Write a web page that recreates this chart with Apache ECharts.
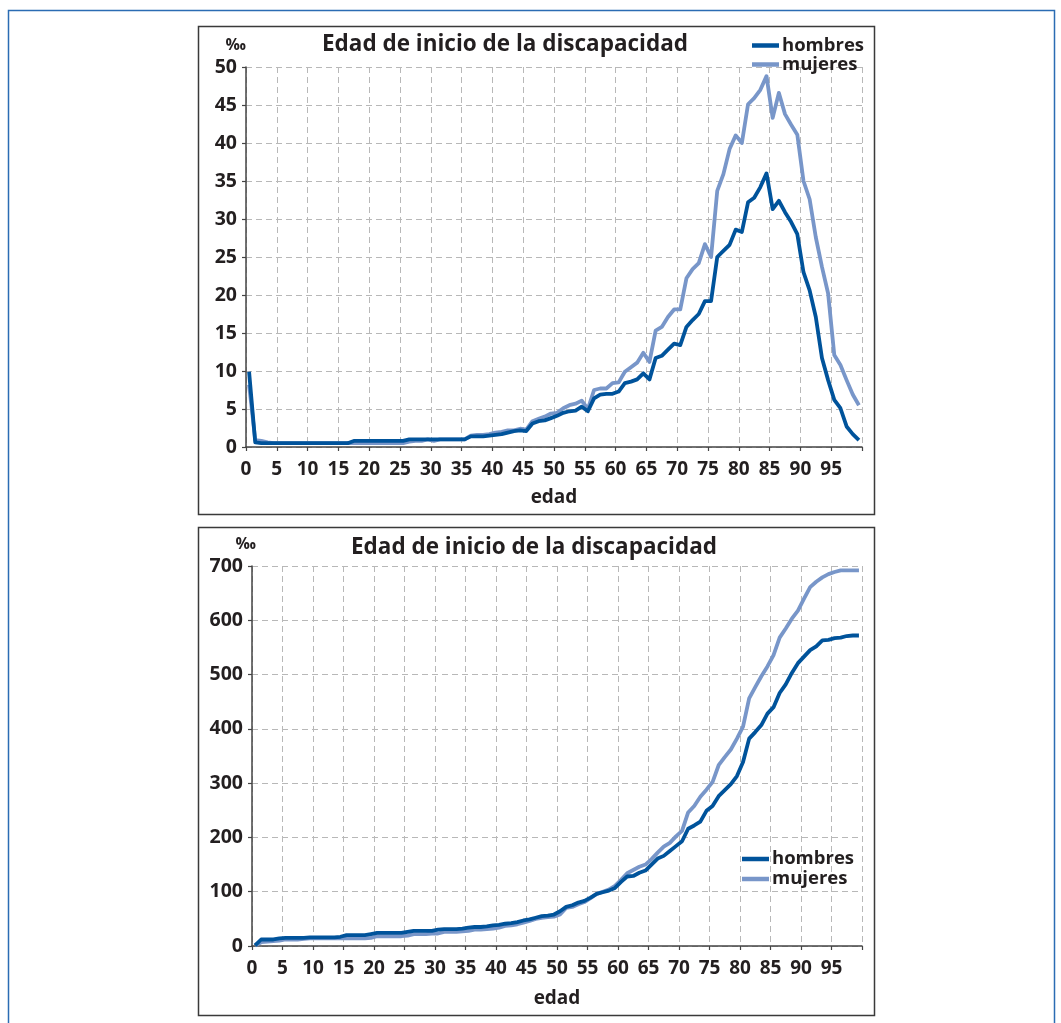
<!DOCTYPE html>
<html>
<head>
<meta charset="utf-8">
<script src="https://cdn.jsdelivr.net/npm/echarts@6/dist/echarts.min.js"></script>
<style>
html,body{margin:0;padding:0;background:#fff;}
#chart{width:1061px;height:1023px;}
</style>
</head>
<body>
<div id="chart"></div>
<script>
// ---- data ----
const edades = Array.from({length: 100}, (_, i) => i); // 0..99 años
const xTicks = [0,5,10,15,20,25,30,35,40,45,50,55,60,65,70,75,80,85,90,95];
const titulo = 'Edad de inicio de la discapacidad';
const serieNombres = ['hombres', 'mujeres'];

// tasa anual (‰) por edad de inicio
const tasaHombres = [
  9.9, 0.6, 0.5, 0.5, 0.5, 0.5, 0.5, 0.5, 0.5, 0.5,
  0.5, 0.5, 0.5, 0.5, 0.5, 0.5, 0.5, 0.8, 0.8, 0.8,
  0.8, 0.8, 0.8, 0.8, 0.8, 0.8, 1.0, 1.0, 1.0, 1.0,
  1.0, 1.0, 1.0, 1.0, 1.0, 1.0, 1.4, 1.4, 1.4, 1.5,
  1.6, 1.7, 1.9, 2.1, 2.2, 2.1, 3.1, 3.4, 3.5, 3.8,
  4.1, 4.5, 4.7, 4.8, 5.3, 4.7, 6.4, 6.9, 7.0, 7.0,
  7.3, 8.4, 8.6, 8.9, 9.7, 8.9, 11.7, 12.0, 12.8, 13.6,
  13.4, 15.8, 16.7, 17.5, 19.2, 19.2, 25.0, 25.8, 26.6, 28.6,
  28.3, 32.2, 32.8, 34.2, 36.0, 31.3, 32.4, 30.9, 29.6, 28.0,
  23.0, 20.6, 17.1, 11.7, 8.8, 6.2, 5.1, 2.7, 1.7, 0.9
];
const tasaMujeres = [
  8.2, 0.9, 0.8, 0.6, 0.5, 0.5, 0.5, 0.5, 0.5, 0.5,
  0.5, 0.5, 0.5, 0.5, 0.5, 0.5, 0.5, 0.5, 0.5, 0.5,
  0.5, 0.5, 0.5, 0.5, 0.5, 0.5, 0.7, 0.8, 0.8, 1.0,
  0.8, 1.0, 1.0, 1.0, 1.0, 1.0, 1.5, 1.6, 1.6, 1.7,
  1.9, 2.0, 2.2, 2.2, 2.4, 2.3, 3.4, 3.7, 4.0, 4.4,
  4.5, 5.1, 5.5, 5.7, 6.1, 5.0, 7.5, 7.7, 7.7, 8.4,
  8.5, 9.9, 10.5, 11.1, 12.4, 11.2, 15.3, 15.8, 17.1, 18.1,
  18.1, 22.2, 23.4, 24.2, 26.7, 25.0, 33.7, 35.9, 39.2, 41.0,
  40.0, 45.1, 45.9, 47.0, 48.8, 43.3, 46.6, 43.8, 42.4, 41.1,
  35.0, 32.6, 27.6, 23.7, 20.2, 12.1, 10.8, 8.8, 6.9, 5.5
];
// acumulado (‰)
const acumHombres = [
  1, 12, 12, 12, 14, 15, 15, 15, 15, 16,
  16, 16, 16, 16, 17, 20, 20, 20, 20, 22,
  24, 24, 24, 24, 24, 26, 28, 28, 28, 28,
  30, 31, 31, 31, 32, 34, 35, 35, 36, 38,
  39, 41, 42, 44, 47, 49, 52, 55, 56, 58,
  64, 72, 75, 80, 83, 89, 96, 99, 102, 107,
  118, 128, 129, 135, 139, 150, 161, 166, 175, 184,
  193, 216, 222, 229, 249, 258, 276, 287, 298, 313,
  339, 382, 394, 407, 428, 440, 466, 482, 503, 521,
  533, 545, 552, 563, 564, 567, 568, 571, 572, 572
];
const acumMujeres = [
  1, 7, 8, 9, 10, 12, 12, 12, 13, 14,
  14, 14, 14, 14, 14, 14, 14, 14, 14, 15,
  18, 18, 18, 18, 18, 19, 22, 22, 22, 23,
  23, 26, 26, 26, 27, 28, 30, 30, 31, 32,
  34, 37, 38, 40, 43, 46, 50, 52, 53, 54,
  58, 70, 72, 77, 81, 88, 96, 100, 104, 111,
  122, 134, 140, 146, 150, 160, 172, 183, 190, 202,
  212, 246, 258, 275, 288, 302, 333, 348, 362, 382,
  404, 456, 477, 497, 515, 536, 568, 585, 603, 618,
  640, 661, 671, 679, 685, 689, 692, 692, 692, 692
];

// ---- styling ----
const colHombres = '#00539b';
const colMujeres = '#7896c9';
const txtCol = '#231f20';
const FONT = '"Open Sans", "Noto Sans", sans-serif';

// each age is drawn at the centre of its one-year band
const pts = vals => edades.map((e, i) => [e + 0.5, vals[i]]);

function xAxisDef(gridIndex, labelMargin, nameGap) {
  return {
    type: 'value', gridIndex, min: 0, max: 100, interval: 5,
    name: 'edad', nameLocation: 'middle', nameGap,
    nameTextStyle: {color: txtCol, fontSize: 19, fontWeight: 'bold', fontFamily: FONT},
    axisLine: {show: true, lineStyle: {color: '#444', width: 1.5}},
    axisTick: {show: true, length: 4, lineStyle: {color: '#444', width: 1.2}},
    axisLabel: {
      margin: labelMargin, color: txtCol, fontSize: 19, fontWeight: 'bold', fontFamily: FONT,
      formatter: v => xTicks.indexOf(v) >= 0 ? String(v) : ''
    },
    splitLine: {show: true, lineStyle: {color: '#b8b8b8', type: [6, 4], width: 1}}
  };
}
function yAxisDef(gridIndex, max, interval, namePad) {
  return {
    type: 'value', gridIndex, min: 0, max, interval,
    name: '‰', nameLocation: 'end', nameGap: 14,
    nameTextStyle: {color: txtCol, fontSize: 16, fontWeight: 'bold', fontFamily: FONT, align: 'right', padding: namePad},
    axisLine: {show: true, lineStyle: {color: '#444', width: 1.5}},
    axisTick: {show: true, length: 4, lineStyle: {color: '#444', width: 1.2}},
    axisLabel: {margin: 9, color: txtCol, fontSize: 19.5, fontWeight: 'bold', fontFamily: FONT},
    splitLine: {show: true, lineStyle: {color: '#b8b8b8', type: [6, 4], width: 1}}
  };
}
function lineSeries(name, color, data, idx) {
  return {
    name, type: 'line', xAxisIndex: idx, yAxisIndex: idx,
    data, symbol: 'none', smooth: false, animation: false,
    lineStyle: {color, width: 3.8, join: 'round'}, itemStyle: {color},
    z: name === 'hombres' ? 3 : 2
  };
}

const chart = echarts.init(document.getElementById('chart'), null, {renderer: 'canvas'});
chart.setOption({
  backgroundColor: '#fff',
  animation: false,
  textStyle: {fontFamily: FONT},
  title: [
    {text: titulo, left: 500, top: 28, textAlign: 'center',
     textStyle: {color: txtCol, fontSize: 22.5, fontWeight: 'bold', fontFamily: FONT}},
    {text: titulo, left: 529, top: 531, textAlign: 'center',
     textStyle: {color: txtCol, fontSize: 22.5, fontWeight: 'bold', fontFamily: FONT}}
  ],
  legend: [
    {data: serieNombres, orient: 'vertical', left: 747, top: 31, itemGap: 0,
     icon: 'rect', itemWidth: 27, itemHeight: 4.5,
     textStyle: {color: txtCol, fontSize: 18.5, fontWeight: 'bold', fontFamily: FONT, lineHeight: 19, padding: [0, 0, 0, -2]}},
    {data: serieNombres, orient: 'vertical', left: 737, top: 844, itemGap: 0,
     icon: 'rect', itemWidth: 27, itemHeight: 4.5,
     textStyle: {color: txtCol, fontSize: 18.5, fontWeight: 'bold', fontFamily: FONT, lineHeight: 20, padding: [0, 0, 0, -2]}}
  ],
  grid: [
    {left: 246, right: 199, top: 67, height: 380},
    {left: 252, right: 199, top: 566, height: 380}
  ],
  xAxis: [xAxisDef(0, 13, 41), xAxisDef(1, 13, 43)],
  yAxis: [yAxisDef(0, 50, 5, [0, 0, 0, 0]), yAxisDef(1, 700, 100, [0, -4, 0, 0])],
  series: [
    lineSeries('mujeres', colMujeres, pts(tasaMujeres), 0),
    lineSeries('hombres', colHombres, pts(tasaHombres), 0),
    lineSeries('mujeres', colMujeres, pts(acumMujeres), 1),
    lineSeries('hombres', colHombres, pts(acumHombres), 1)
  ],
  graphic: [
    {type: 'rect', silent: true, z: -1, shape: {x: 8.5, y: 10.5, width: 1046, height: 1040},
     style: {fill: null, stroke: '#2b6cb3', lineWidth: 1.5}},
    {type: 'rect', silent: true, z: -1, shape: {x: 198.5, y: 26.5, width: 676, height: 488},
     style: {fill: null, stroke: '#3a3a3a', lineWidth: 1.5}},
    {type: 'rect', silent: true, z: -1, shape: {x: 198.5, y: 527.5, width: 676, height: 488},
     style: {fill: null, stroke: '#3a3a3a', lineWidth: 1.5}}
  ]
});
</script>
</body>
</html>
